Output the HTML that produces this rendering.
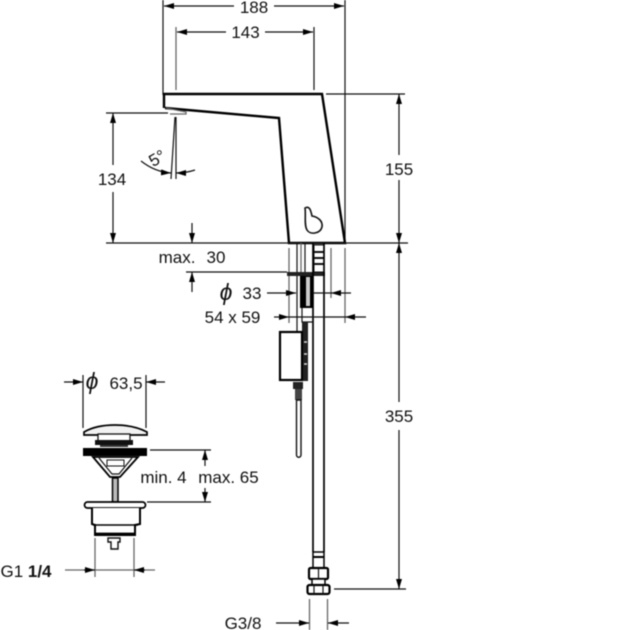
<!DOCTYPE html>
<html><head><meta charset="utf-8"><style>
html,body{margin:0;padding:0;background:#fff}
svg{display:block;filter:blur(.4px)}
text{font-family:"Liberation Sans",sans-serif;font-size:17px;fill:#111;text-anchor:middle}
.p{font-size:23px;font-style:italic}
.l{stroke:#111;stroke-width:1.2;fill:none}
.g{stroke:#666;stroke-width:1.3;fill:none}
.o{stroke:#000;stroke-width:2.4;fill:none}
.k{fill:#000}
</style></head><body>
<svg width="630" height="630" viewBox="0 0 630 630" xmlns="http://www.w3.org/2000/svg">
<defs>
<marker id="a" viewBox="0 0 10 6" refX="10" refY="3" markerWidth="10" markerHeight="6" orient="auto-start-reverse" markerUnits="userSpaceOnUse"><path d="M0 0L10 3L0 6z" fill="#000"/></marker>
</defs>

<!-- top dims -->
<path class="l" d="M163 0V95M345 0V243"/>
<path class="l" d="M164 6H234" marker-start="url(#a)"/>
<path class="l" d="M274 6H344" marker-end="url(#a)"/>
<text x="254" y="13">188</text>
<path class="g" d="M176 27V90"/><path class="l" d="M314 27V90"/>
<path class="l" d="M177 32H226" marker-start="url(#a)"/>
<path class="l" d="M265 32H313" marker-end="url(#a)"/>
<text x="245.500" y="38">143</text>

<!-- spout -->
<path class="o" d="M164 108V94H322L345 243H289L279 118L165 108"/>
<path class="g" d="M166 108L186 112V114H170"/>
<path d="M305 208C310 205 311 212 312 216C318 217 323 221 322 227C320 234 310 235 307 230C304 225 306 214 305 208Z" fill="#fff" stroke="#111" stroke-width="1.600"/>

<!-- 155 / 355 -->
<path class="l" d="M326 94H405M106 243H408"/>
<path class="l" d="M399 94V155" marker-start="url(#a)"/>
<path class="l" d="M399 180V243" marker-end="url(#a)"/>
<text x="399" y="175">155</text>
<path class="l" d="M399 243V402" marker-start="url(#a)"/>
<path class="l" d="M399 430V589" marker-end="url(#a)"/>
<text x="399" y="422">355</text>
<path class="l" d="M334 589H406"/>

<!-- 134 -->
<path class="l" d="M106 113H168"/>
<path class="l" d="M113 113V165" marker-start="url(#a)"/>
<path class="l" d="M113 192V243" marker-end="url(#a)"/>
<text x="112" y="185">134</text>

<!-- 5 deg -->
<path class="l" d="M175 117L171 179M176 117V179"/>
<path class="l" d="M141 161Q155 172 171 173" marker-end="url(#a)"/>
<path class="l" d="M195 170Q186 173 176 173" marker-end="url(#a)"/>
<text x="157" y="164" transform="rotate(-30 157 158)">5°</text>

<!-- max 30 -->
<text x="177" y="263">max.</text><text x="216" y="263">30</text>
<path class="l" d="M192 223V243" marker-end="url(#a)"/>
<path class="l" d="M192 272V292" marker-start="url(#a)"/>
<path class="l" d="M186 272H287"/>

<!-- under-deck -->
<path class="g" d="M289 248V323M331 248V298M345 248V323"/>
<path class="l" d="M297 243V332M305 243V275"/>
<path class="g" d="M301 243V272"/>
<rect x="300" y="275" width="13" height="33" class="k"/>
<rect x="306" y="277" width="4" height="29" fill="#ccc"/>
<rect x="287" y="272" width="38" height="4" fill="#222"/>
<rect x="314" y="245" width="10" height="27" fill="#fff" stroke="#111"/>
<path d="M314 252H324M314 258H324M314 264H324" stroke="#111" stroke-width="2"/>
<path d="M313 243V552M324 243V552" stroke="#000" stroke-width="1.700" fill="none"/>
<path d="M302 308V322H313" class="l"/>
<rect x="302" y="322" width="6" height="10" fill="#222"/>

<!-- phi 33 / 54x59 -->
<text class="p" x="226" y="300">ϕ</text><text x="252" y="299">33</text>
<path class="l" d="M267 293H296" marker-end="url(#a)"/>
<path class="l" d="M351 293H331" marker-end="url(#a)"/>
<path class="l" d="M313 293H331"/>
<text x="232.500" y="323">54 x 59</text>
<path class="l" d="M274 317H289" marker-end="url(#a)"/>
<path class="l" d="M366 317H345" marker-end="url(#a)"/>
<path class="l" d="M289 317H345"/>

<!-- control box -->
<rect x="280" y="332" width="22" height="48" fill="#fff" stroke="#000" stroke-width="2.200"/>
<rect x="303" y="328" width="5" height="53" fill="#222"/>
<path d="M304 342h3M304 354h3M304 364h3" stroke="#ddd" stroke-width="1.500"/>
<rect x="293" y="382" width="10" height="7" fill="#222"/>
<rect x="295" y="389" width="7" height="11" fill="#444"/>
<path d="M296.500 400H301V455a2.200 2.200 0 0 1-4.500 0Z" fill="#fff" stroke="#111" stroke-width="1.400"/>

<!-- fitting -->
<rect x="313" y="552" width="11" height="16" fill="#fff" stroke="#000" stroke-width="1.500"/>
<path d="M313 557H324" stroke="#000" stroke-width="2"/>
<rect x="309" y="568" width="19" height="11" rx="1.500" fill="#fff" stroke="#000" stroke-width="2.200"/>
<path d="M318.500 568V579" class="l"/>
<rect x="312" y="579" width="13" height="6" fill="#fff" stroke="#000" stroke-width="1.500"/>
<rect x="307.500" y="585" width="22" height="9" rx="2" fill="#fff" stroke="#000" stroke-width="2.200"/>
<path d="M314 585V594M323 585V594" class="l"/>
<path class="g" d="M309.500 599V630M327.500 599V630"/>
<path class="l" d="M276 623H309" marker-end="url(#a)"/>
<path class="l" d="M349 623H328" marker-end="url(#a)"/>
<text x="243" y="629">G3/8</text>

<!-- phi 63,5 -->
<path class="l" d="M83 375V428M146 375V428"/>
<path class="l" d="M64 382H83" marker-end="url(#a)"/>
<path class="l" d="M165 382H146" marker-end="url(#a)"/>
<text class="p" x="92" y="389">ϕ</text><text x="126" y="389">63,5</text>

<!-- pop-up waste -->
<path d="M84 432Q96 425 115 425Q134 425 147 432V435H84Z" fill="#f2f2f2" stroke="#000" stroke-width="1.700"/>
<rect x="98" y="434" width="32" height="7" fill="#fff" stroke="#111" stroke-width="1.300"/>
<rect x="95" y="440" width="38" height="5" fill="#111"/>
<rect x="100" y="445" width="28" height="2" fill="#333"/>
<rect x="83" y="448" width="64" height="8" fill="#000"/>
<path d="M93 457L110 477H120L138 457Z" fill="#fff" stroke="#000" stroke-width="1.800"/>
<path d="M99 458L112 474H119L132 458" class="l"/>
<rect x="107" y="460" width="17" height="6" fill="#fff" stroke="#111"/>
<rect x="112.500" y="478" width="5.500" height="24" fill="#bbb" stroke="#000" stroke-width="1.500"/>
<rect x="84.500" y="502" width="61" height="6" rx="3" fill="#fff" stroke="#000" stroke-width="1.700"/>
<path d="M92 508V524L95 525V535H135V525L140 524V508" fill="#fff" stroke="#000" stroke-width="2"/>
<path d="M93 525H138" stroke="#000" stroke-width="1.600"/>
<path d="M95 534H135" stroke="#000" stroke-width="2.800"/>
<path d="M108 538H120V542H118V549H111V542H108Z" fill="#fff" stroke="#111" stroke-width="1.400"/>

<!-- min/max -->
<path class="l" d="M150 450H211M147 502H211"/>
<path class="l" d="M205 450V466" marker-start="url(#a)"/>
<path class="l" d="M205 488V502" marker-end="url(#a)"/>
<text x="163.500" y="483">min. 4</text><text x="228.500" y="483">max. 65</text>

<!-- G1 1/4 -->
<path class="g" d="M95 538V577M134 538V577M65 570H155"/>
<path class="l" d="M84 570H95" marker-end="url(#a)"/>
<path class="l" d="M145 570H134" marker-end="url(#a)"/>
<text x="26" y="577">G1 <tspan font-weight="bold">1/4</tspan></text>
</svg>
</body></html>
